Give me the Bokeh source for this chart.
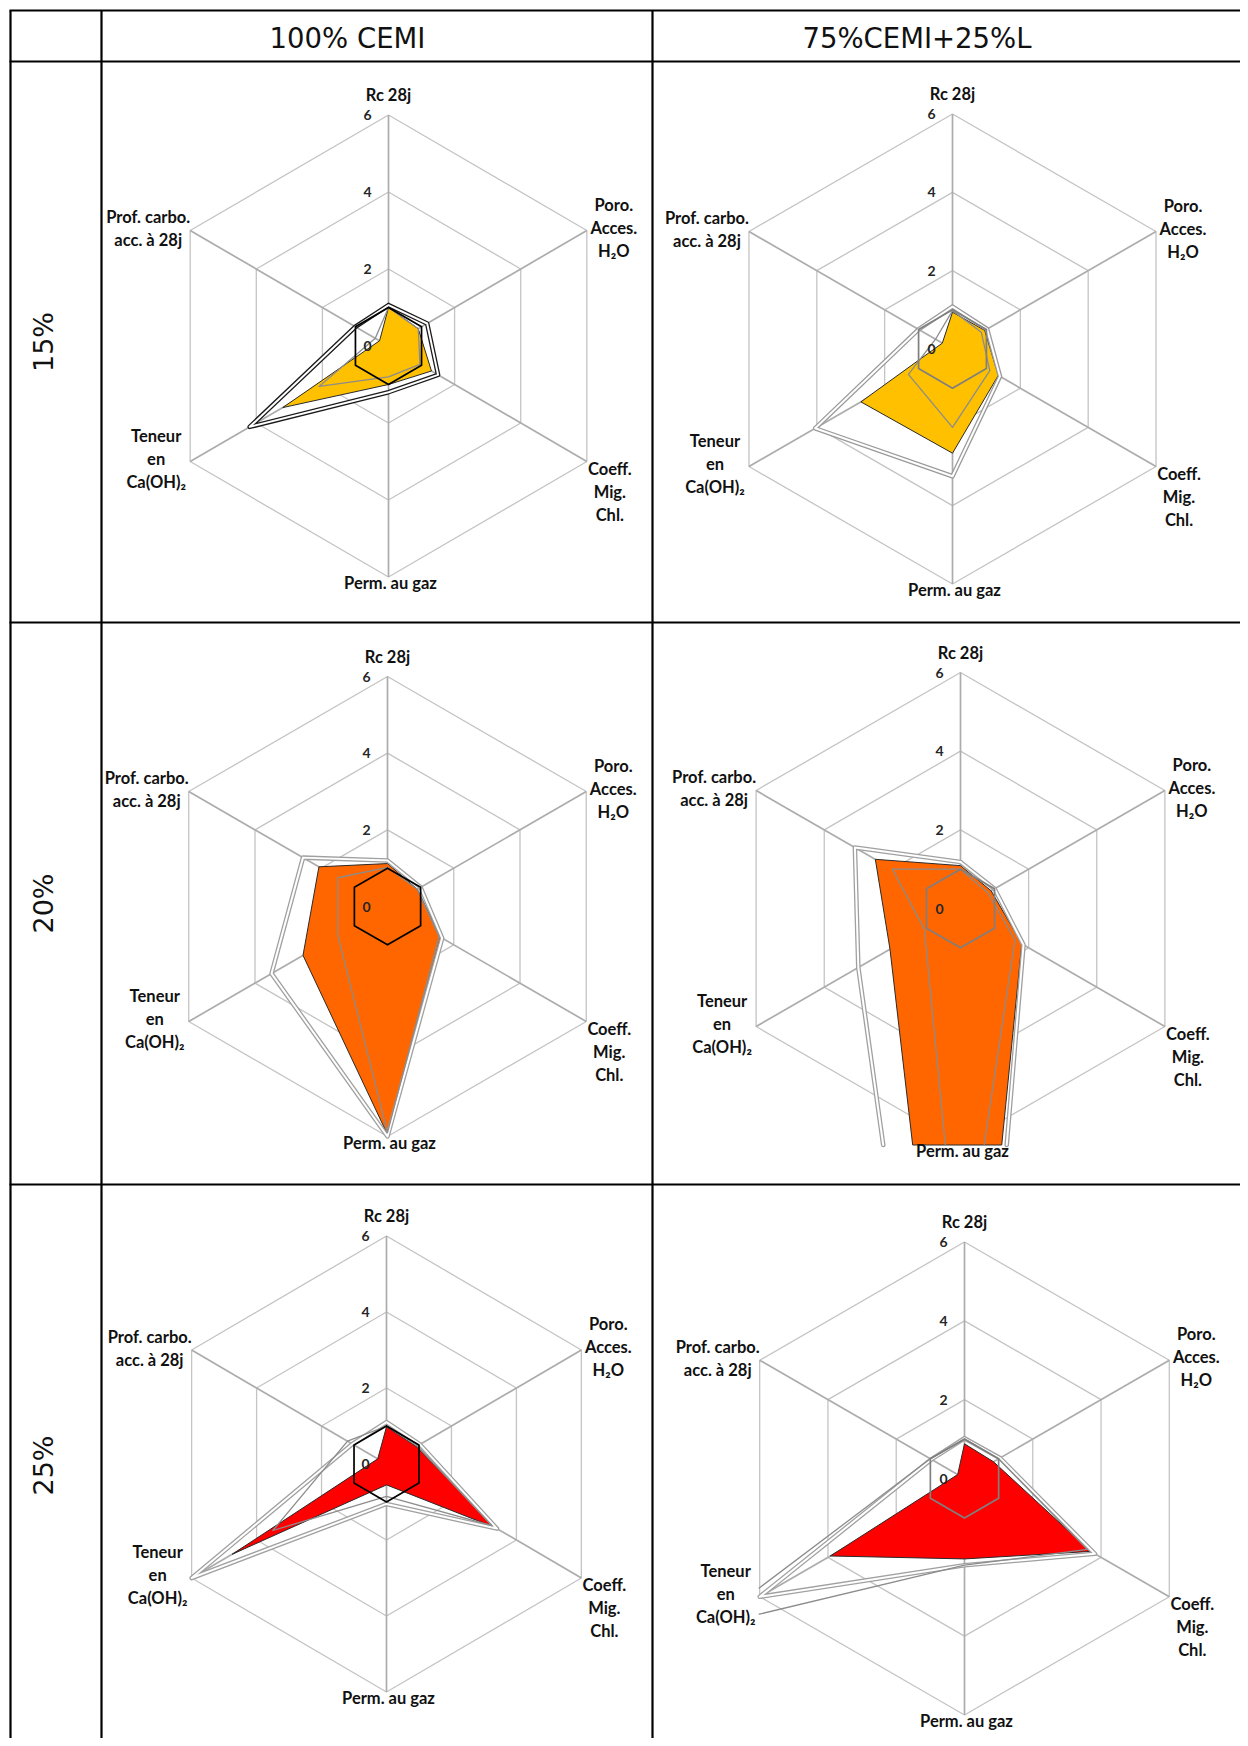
import math
from bokeh.plotting import figure
from bokeh.models import Range1d
from bokeh.embed import file_html
from bokeh.resources import INLINE
from bokeh.core.properties import value

# ---------------- data ----------------
col_headers = ["100% CEMI", "75%CEMI+25%L"]
row_labels = ["15%", "20%", "25%"]
axis_labels = [["Rc 28j"], ["Poro.", "Acces.", "H\u2082O"], ["Coeff.", "Mig.", "Chl."],
               ["Perm. au gaz"], ["Teneur", "en", "Ca(OH)\u2082"], ["Prof. carbo.", "acc. \u00e0 28j"]]
tick_values = [0, 2, 4, 6]
tick_labels = ["0", "2", "4", "6"]
reference = [1, 1, 1, 1, 1, 1]

fill_15_cemi = [1.0, 0.9, 1.3, 1.0, 3.2, 0.27]
env_15_cemi = [1.06, 1.17, 1.5, 1.2, 4.2, 1.0]
gray_15_cemi = [1.0, 0.9, 0.95, 0.8, 2.1, 0.4]

fill_15_l = [0.94, 0.95, 1.35, 2.66, 2.7, 0.3]
env_15_l = [1.08, 1.02, 1.4, 3.25, 4.05, 1.0]
gray_15_l = [0.98, 0.85, 1.1, 2.0, 1.3, 0.5]

fill_20_cemi = [1.12, 0.9, 1.6, 5.95, 2.55, 2.07]
env_20_cemi = [1.2, 1.0, 1.65, 6.0, 3.5, 2.55]
gray_20_cemi = [1.02, 0.9, 1.55, 5.9, 1.5, 1.5]

fill_20_l = [1.09, 0.9, 1.8, 16.5, 2.07, 2.5]
env_20_l = [1.18, 1.0, 1.85, 20.0, 3.0, 3.1]
gray_20_l = [1.0, 0.8, 1.6, 10.0, 1.06, 2.0]

fill_25_cemi = [0.98, 0.92, 3.35, 0.55, 4.75, 0.27]
env_25_cemi = [1.1, 1.03, 3.4, 1.05, 6.0, 1.05]
gray_25_cemi = [1.0, 0.95, 3.25, 0.85, 3.5, 1.2]

fill_25_l = [0.88, 0.85, 3.7, 2.04, 3.93, 0.2]
env_25_l = [1.02, 1.04, 3.82, 2.2, 6.0, 0.97]
gray_25_l = [1.0, 1.0, 3.6, 2.2, 7.5, 1.0]

# ---------------- layout / style ----------------
FIG_W, FIG_H = 1240, 1738
def Y(py):
    return FIG_H - py

charts = [
    # (cx, cy, Rx, Ry), fill, env, gray, fill colour, env edge colour, ref colour
    ((388, 345.5, 229, 231), fill_15_cemi, env_15_cemi, gray_15_cemi, "#FFC000", "#1a1a1a", "#000000"),
    ((952, 348.5, 235, 235), fill_15_l, env_15_l, gray_15_l, "#FFC000", "#9a9a9a", "#7f7f7f"),
    ((387, 906, 229.5, 230), fill_20_cemi, env_20_cemi, gray_20_cemi, "#FF6600", "#a0a0a0", "#000000"),
    ((960, 908, 236, 236), fill_20_l, env_20_l, gray_20_l, "#FF6600", "#a0a0a0", "#7f7f7f"),
    ((386, 1463.5, 225, 228), fill_25_cemi, env_25_cemi, gray_25_cemi, "#FF0000", "#a0a0a0", "#000000"),
    ((964, 1478, 236.5, 236.5), fill_25_l, env_25_l, gray_25_l, "#FF0000", "#a0a0a0", "#7f7f7f"),
]

p = figure(width=FIG_W, height=FIG_H, x_range=Range1d(0, FIG_W), y_range=Range1d(0, FIG_H),
           output_backend="svg", toolbar_location=None, min_border=0,
           x_axis_location=None, y_axis_location=None)
p.grid.visible = False
p.outline_line_color = None
p.background_fill_color = "white"
p.border_fill_color = "white"

LABEL_FONT = value("Lato")
TABLE_FONT = value("DejaVu Sans")


def pt(g, k, v):
    cx, cy, rx, ry = g
    th = math.radians(60 * k)
    return cx + v / 6.0 * rx * math.sin(th), cy - v / 6.0 * ry * math.cos(th)


def clip_poly(pts, rect):
    x0, x1, y0, y1 = rect

    def edge(pts, inside, inter):
        out = []
        n = len(pts)
        for i in range(n):
            cur, prev = pts[i], pts[i - 1]
            if inside(cur):
                if not inside(prev):
                    out.append(inter(prev, cur))
                out.append(cur)
            elif inside(prev):
                out.append(inter(prev, cur))
        return out

    def ix(a, b, x):
        t = (x - a[0]) / (b[0] - a[0])
        return (x, a[1] + t * (b[1] - a[1]))

    def iy(a, b, y):
        t = (y - a[1]) / (b[1] - a[1])
        return (a[0] + t * (b[0] - a[0]), y)

    pts = edge(pts, lambda q: q[0] >= x0, lambda a, b: ix(a, b, x0))
    pts = edge(pts, lambda q: q[0] <= x1, lambda a, b: ix(a, b, x1))
    pts = edge(pts, lambda q: q[1] >= y0, lambda a, b: iy(a, b, y0))
    pts = edge(pts, lambda q: q[1] <= y1, lambda a, b: iy(a, b, y1))
    return pts


def clip_seg(a, b, rect):
    x0, x1, y0, y1 = rect
    dx, dy = b[0] - a[0], b[1] - a[1]
    t0, t1 = 0.0, 1.0
    for pp, qq in ((-dx, a[0] - x0), (dx, x1 - a[0]), (-dy, a[1] - y0), (dy, y1 - a[1])):
        if pp == 0:
            if qq < 0:
                return None
        else:
            t = qq / pp
            if pp < 0:
                t0 = max(t0, t)
            else:
                t1 = min(t1, t)
    if t0 > t1:
        return None
    return (a[0] + t0 * dx, a[1] + t0 * dy), (a[0] + t1 * dx, a[1] + t1 * dy), t0 > 0, t1 < 1


def clip_loop(pts, rect):
    pieces, cur = [], None
    n = len(pts)
    for i in range(n):
        r = clip_seg(pts[i], pts[(i + 1) % n], rect)
        if r is None:
            if cur:
                pieces.append(cur)
            cur = None
            continue
        s, e, cs, ce = r
        if cur is not None and not cs:
            cur.append(e)
        else:
            if cur:
                pieces.append(cur)
            cur = [s, e]
        if ce:
            pieces.append(cur)
            cur = None
    if cur:
        pieces.append(cur)
    return pieces


def draw_lines(pieces, color, width):
    p.multi_line([[q[0] for q in pc] for pc in pieces], [[Y(q[1]) for q in pc] for pc in pieces],
                 line_color=color, line_width=width, line_join="round", line_cap="round")


for g, fvals, evals, gvals, fcol, ecol, rcol in charts:
    cx, cy, rx, ry = g
    rect = (cx - rx * 0.8660 - 0.5, cx + rx * 0.8660 + 0.5, cy - ry - 0.5, cy + ry + 0.5)
    # grid rings
    for tv in tick_values[1:]:
        ring = [pt(g, k, tv) for k in range(6)] + [pt(g, 0, tv)]
        p.line([q[0] for q in ring], [Y(q[1]) for q in ring], line_color="#c4c4c4", line_width=1.3)
    # spokes
    for k in range(6):
        a = pt(g, k, 0)
        b = pt(g, k, 6)
        p.line([a[0], b[0]], [Y(a[1]), Y(b[1])], line_color="#acacac", line_width=1.7)
    # filled series
    poly = clip_poly([pt(g, k, fvals[k]) for k in range(6)], rect)
    p.patch([q[0] for q in poly], [Y(q[1]) for q in poly], fill_color=fcol, line_color="#2a2a2a",
            line_width=1.0)
    # envelope as double line
    env = clip_loop([pt(g, k, evals[k]) for k in range(6)], rect)
    draw_lines(env, ecol, 4.6)
    draw_lines(env, "white", 2.0)
    # thin grey series
    gl = clip_loop([pt(g, k, gvals[k]) for k in range(6)], rect)
    draw_lines(gl, "#8c8c8c", 1.3)
    # reference series
    rl = clip_loop([pt(g, k, reference[k]) for k in range(6)], rect)
    draw_lines(rl, rcol, 1.7)
    # tick labels
    tx, ty = [], []
    for tv in tick_values:
        q = pt(g, 0, tv)
        tx.append(cx - 17)
        ty.append(Y(q[1]))
    p.text(tx, ty, text=tick_labels, text_font=LABEL_FONT, text_font_size=value("14px"),
           text_font_style="bold", text_color="#262626", text_align="right", text_baseline="middle")
    # axis labels
    vx = [pt(g, k, 6) for k in range(6)]
    LS = 23.0
    lx, ly, lt = [], [], []

    def block(lines, x, ymid):
        n = len(lines)
        for i, s in enumerate(lines):
            lx.append(x)
            ly.append(Y(ymid + (i - (n - 1) / 2.0) * LS))
            lt.append(s)

    block(axis_labels[0], vx[0][0], vx[0][1] - 20)
    block(axis_labels[1], vx[1][0] + 27, vx[1][1] - 3)
    block(axis_labels[2], vx[2][0] + 23, vx[2][1] + 30)
    block(axis_labels[3], vx[3][0] + 2, vx[3][1] + 6)
    block(axis_labels[4], vx[4][0] - 34, vx[4][1] - 3)
    block(axis_labels[5], vx[5][0] - 42, vx[5][1] - 2)
    p.text(lx, ly, text=lt, text_font=LABEL_FONT, text_font_size=value("16.5px"),
           text_font_style="bold", text_color="#111111", text_align="center", text_baseline="middle")

# ---------------- table ----------------
h_lines_y = [10, 61, 622, 1184]
for yy in h_lines_y:
    p.line([9, FIG_W], [Y(yy), Y(yy)], line_color="black", line_width=2.2)
v_lines_x = [10, 101, 652]
for xx in v_lines_x:
    p.line([xx, xx], [Y(10), Y(FIG_H)], line_color="black", line_width=2.2)

p.text([347, 916.5], [Y(37.5), Y(37.5)], text=col_headers, text_font=TABLE_FONT,
       text_font_size=value("27.5px"), text_color="#111111", text_align="center",
       text_baseline="alphabetic")

row_mid = [341.5, 903, 1465]
p.text([43, 43, 43], [Y(v) for v in row_mid], text=row_labels, text_font=TABLE_FONT,
       text_font_size=value("27px"), text_color="#111111", text_align="center",
       text_baseline="alphabetic", angle=[math.pi / 2] * 3)

open("out.html", "w").write(file_html(p, INLINE))
